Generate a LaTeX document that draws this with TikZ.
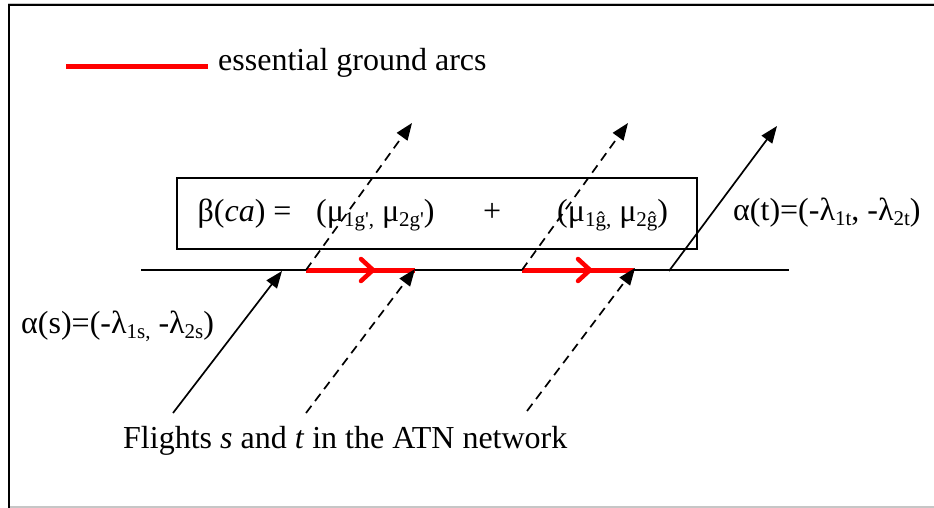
\documentclass[tikz,border=0pt]{standalone}
\usepackage{fontspec}
\setmainfont{Liberation Serif}
\usetikzlibrary{arrows.meta}
\newcommand\lsub[1]{\raisebox{-5pt}{\fontsize{21}{21}\selectfont #1}}
\begin{document}
\begin{tikzpicture}[x=1pt,y=-1pt,
  txt/.style={inner sep=0pt,anchor=base west,font=\fontsize{32}{38}\selectfont},
  flight/.style={line width=1.7pt,-{Triangle[length=17pt,width=13pt]}},
  dflight/.style={flight,dash pattern=on 9pt off 6pt},
  redarc/.style={red,line width=5pt},
  chev/.style={red,line width=4.5pt,line cap=round,line join=round},
  frame/.style={line width=2pt},
  ground/.style={line width=1.5pt}]
\useasboundingbox (0,0) rectangle (934,508);
% outer frame
\draw[gray!45,line width=1.2pt] (8,3.2) -- (934,3.2);
\draw[gray!45,line width=1.5pt] (10,507.2) -- (934,507.2);
\draw[frame] (9,508) -- (9,5) -- (934,5);
% legend
\coordinate (lg1) at (66,67);
\coordinate (lg2) at (208,67);
\draw[redarc] (lg1) -- (lg2);
\node[txt] (legend) at (218,71) {essential ground arcs};
% box
\node[draw,line width=1.5pt,minimum width=520pt,minimum height=71pt,inner sep=0pt] (box) at (437,213.5) {};
\node[txt] (beta) at (197.5,221) {β(\textit{ca}) =};
\node[txt] (mu1) at (316,221) {(μ\lsub{1g\textquotesingle,} μ\lsub{2g\textquotesingle})};
\node[txt] (plus) at (483,221) {+};
\node[txt] (mu2) at (557,221) {(μ\lsub{1ĝ,} μ\lsub{2ĝ})};
% ground line
\coordinate (g1) at (141,270);
\coordinate (g2) at (789,270);
\draw[ground] (g1) -- (g2);
% essential ground arcs
\coordinate (a1) at (306,270);
\coordinate (a1e) at (415,270);
\coordinate (c1) at (373,270);
\coordinate (a2) at (522,270);
\coordinate (a2e) at (634,270);
\coordinate (c2) at (590,270);
\draw[redarc] (a1) -- (a1e);
\draw[redarc] (a2) -- (a2e);
\draw[chev] (c1) ++(-12,-11) -- (c1) -- ++(-12,11);
\draw[chev] (c2) ++(-12,-11) -- (c2) -- ++(-12,11);
% flights
\coordinate (s0) at (173,413);
\coordinate (s1) at (282,271);
\coordinate (d10) at (306,413);
\coordinate (d11) at (415,269);
\coordinate (d20) at (527,411);
\coordinate (d21) at (635,268);
\coordinate (u1) at (412,123);
\coordinate (u2) at (628,123);
\coordinate (t0) at (669,271);
\coordinate (t1) at (777,126);
\draw[flight] (s0) -- (s1);
\draw[dflight] (d10) -- (d11);
\draw[dflight] (d20) -- (d21);
\draw[dflight] (a1) -- (u1);
\draw[dflight] (a2) -- (u2);
\draw[flight] (t0) -- (t1);
% labels
\node[txt] (alphas) at (21,333) {α(s)=(-λ\lsub{1s,} -λ\lsub{2s})};
\node[txt] (alphat) at (733,220) {α(t)=(-λ\lsub{1t}, -λ\lsub{2t})};
\node[txt] (flights) at (123,448) {Flights \textit{s} and \textit{t} in the ATN network};
\end{tikzpicture}
\end{document}
